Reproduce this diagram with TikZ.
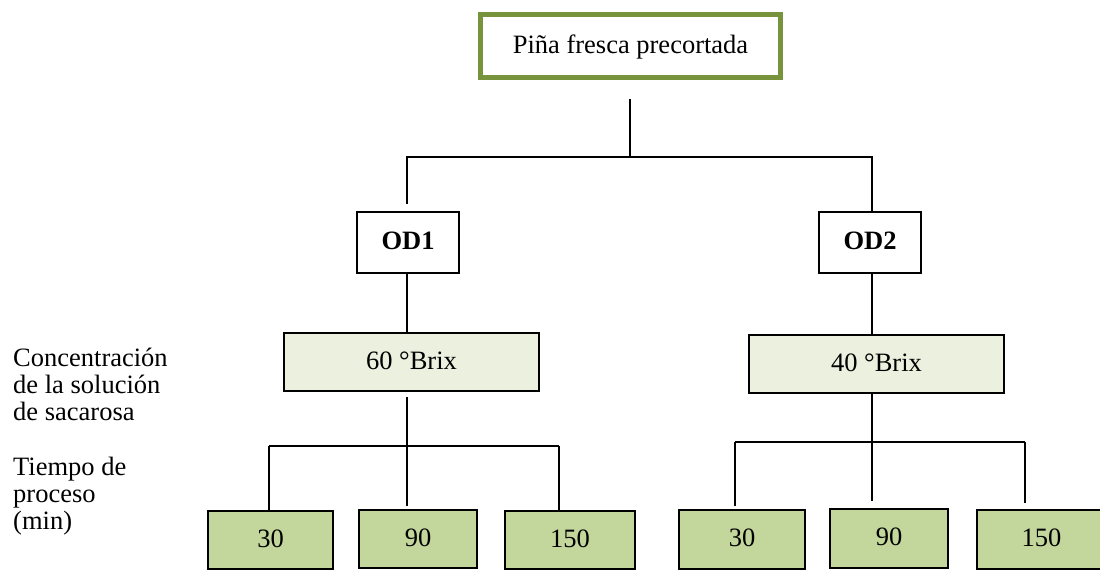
\documentclass[tikz,border=0pt]{standalone}
\usepackage{fontspec}
\setmainfont{Liberation Serif}
\definecolor{olivedark}{HTML}{77933C}
\definecolor{olivepale}{HTML}{EBF1DE}
\definecolor{olivemid}{HTML}{C3D69B}
\tikzset{
  base/.style={inner sep=0pt, font=\fontsize{26.5}{30}\selectfont,
    text height=19pt, text depth=5pt, align=center},
  rootbox/.style={base, draw=olivedark, line width=5pt,
    minimum width=300pt, minimum height=63pt},
  odbox/.style={base, draw=black, line width=1.6pt, fill=white,
    minimum width=102pt, minimum height=61.5pt, font=\fontsize{26.5}{30}\selectfont\bfseries},
  brixbox/.style={base, draw=black, line width=1.6pt, fill=olivepale,
    minimum width=255.5pt, minimum height=58.5pt},
  timebox/.style={base, draw=black, line width=1.6pt, fill=olivemid,
    minimum height=58.5pt},
  link/.style={draw=black, line width=1.6pt},
  sidelabel/.style={inner sep=0pt, anchor=base west,
    font=\fontsize{26.5}{27}\selectfont}
}
\begin{document}
\begin{tikzpicture}[x=1pt, y=-1pt]
  \clip (0,0) rectangle (1100,576);
  \fill[white] (0,0) rectangle (1100,576);

  % root and the two treatments
  \node[rootbox] (root) at (630.5,46) {Piña fresca precortada};
  \node[odbox] (od1) at (408,242.5) {OD1};
  \node[odbox] (od2) at (870,242.5) {OD2};

  % syrup concentrations
  \node[brixbox] (b60) at (411.5,362) {60 °Brix};
  \node[brixbox] (b40) at (876.5,364) {40 °Brix};

  % process times, first branch
  \node[timebox, minimum width=125.5pt] (t30a)  at (270.5,540) {30};
  \node[timebox, minimum width=118.5pt] (t90a)  at (418,539)   {90};
  \node[timebox, minimum width=130.5pt] (t150a) at (570,540)   {150};

  % process times, second branch
  \node[timebox, minimum width=126.5pt, minimum height=59.5pt] (t30b)  at (742,539.5) {30};
  \node[timebox, minimum width=118.5pt, minimum height=59.5pt] (t90b)  at (889,538.5) {90};
  \node[timebox, minimum width=129.5pt, minimum height=59.5pt] (t150b) at (1041.5,539.5) {150};

  % side captions
  \node[sidelabel] (lconc) at (13,366)
    {\begin{tabular}[t]{@{}l@{}}Concentración\\de la solución\\de sacarosa\end{tabular}};
  \node[sidelabel] (ltime) at (13,475)
    {\begin{tabular}[t]{@{}l@{}}Tiempo de\\proceso\\(min)\end{tabular}};

  % junction points of the tree
  \coordinate (j0) at (630,157);
  \coordinate (j1) at (407,446);
  \coordinate (j1l) at (269,446);
  \coordinate (j1r) at (559,446);
  \coordinate (j2) at (872,442);
  \coordinate (j2l) at (735,442);
  \coordinate (j2r) at (1025,442);

  % root to treatments
  \draw[link] ([yshift=-19pt]root.south -| j0) -- (j0);
  \draw[link] (j0) -| ([yshift=7pt]od1.north -| j1);
  \draw[link] (j0) -| (od2.north -| j2);

  % treatments to concentrations
  \draw[link] (od1.south -| j1) -- (b60.north -| j1);
  \draw[link] (od2.south -| j2) -- (b40.north -| j2);

  % concentrations to times, first branch
  \draw[link] ([yshift=-5pt]b60.south -| j1) -- ([yshift=3pt]t90a.north -| j1);
  \draw[link] (j1l) -- (j1r);
  \draw[link] (j1l) -- (t30a.north -| j1l);
  \draw[link] (j1r) -- (t150a.north -| j1r);

  % concentrations to times, second branch
  \draw[link] (b40.south -| j2) -- ([yshift=7pt]t90b.north -| j2);
  \draw[link] (j2l) -- (j2r);
  \draw[link] (j2l) -- ([yshift=3pt]t30b.north -| j2l);
  \draw[link] (j2r) -- ([yshift=6pt]t150b.north -| j2r);
\end{tikzpicture}
\end{document}
